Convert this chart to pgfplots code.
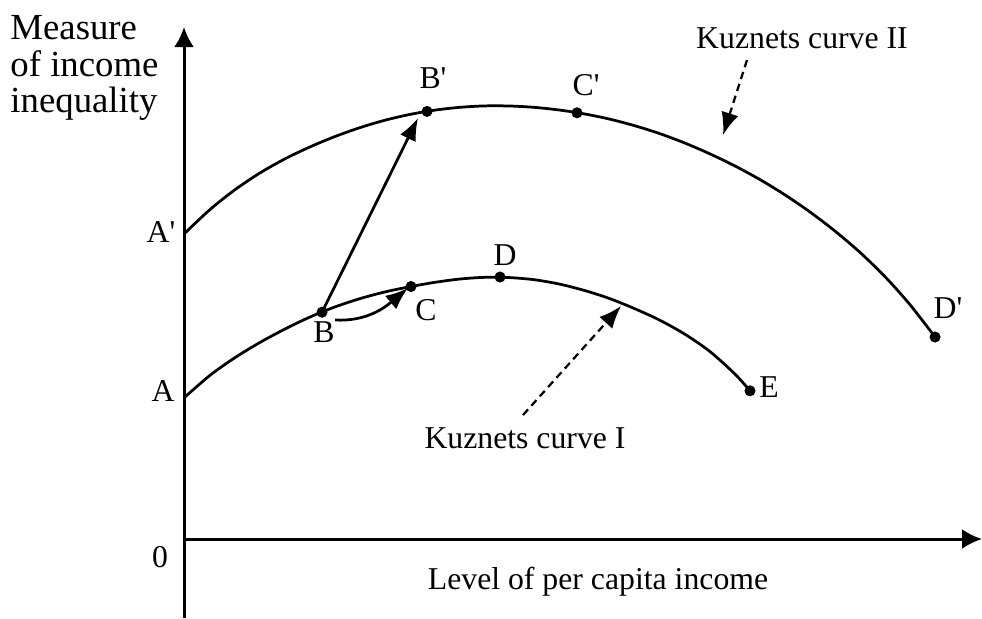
\documentclass[border=0pt]{standalone}
\usepackage{fontspec}
\setmainfont{Liberation Serif}
\usepackage{pgfplots}
\pgfplotsset{compat=1.18}
\usetikzlibrary{arrows.meta}

\begin{document}
\begin{tikzpicture}
\fontsize{12.7}{13.3}\selectfont
\begin{axis}[
  at={(0,0)}, anchor=south west,
  width=392.8pt, height=247.2pt, scale only axis,
  xmin=0, xmax=982, ymin=0, ymax=618,
  hide axis, clip=false,
]
% axes
\addplot[line width=1.2pt, -{Latex[length=8pt,width=8pt]}] coordinates {(184,0) (184,591)};
\addplot[line width=1.2pt, -{Latex[length=8pt,width=8pt]}] coordinates {(184,79) (982,79)};

% Kuznets curve I
\addplot[line width=1.1pt, smooth] coordinates {
  (185,221.0) (210,242.7) (235,260.4) (260,275.6) (285,289.0) (310,301.0)
  (335,311.1) (360,319.4) (385,326.1) (410,331.3) (435,335.7) (460,339.0)
  (485,340.7) (510,340.4) (535,338.2) (560,333.8) (585,327.4) (610,319.3)
  (635,309.2) (660,297.7) (685,283.7) (710,266.4) (735,243.9) (750,227.2)
};
% Kuznets curve II
\addplot[line width=1.1pt, smooth] coordinates {
  (185,385.0) (210,408.5) (235,428.3) (260,445.1) (285,459.2) (310,471.1)
  (335,481.5) (360,490.4) (385,497.8) (410,503.6) (435,507.9) (460,510.7)
  (485,512.1) (510,512.0) (535,510.6) (560,507.9) (585,504.0) (610,498.8)
  (635,492.2) (660,484.3) (685,474.9) (710,464.1) (735,452.0) (760,438.4)
  (785,423.1) (810,406.0) (835,386.9) (860,365.6) (885,341.3) (910,313.3)
  (935,281.0)
};
% points
\addplot[only marks, mark=*, mark size=2pt] coordinates {
  (322,305.8) (411,331.5) (500,341) (750,227.2) (427,506.6) (577,505.2) (935,281)
};

% arrows
\draw[line width=1.1pt, -{Latex[length=9pt,width=7pt]}] (axis cs:322,305.8) -- (axis cs:418,500);
\draw[line width=1.1pt, -{Latex[length=9pt,width=7pt]}] (axis cs:335,298) to[out=-3,in=-140] (axis cs:408,330);
\draw[line width=0.9pt, dash pattern=on 3pt off 2pt, -{Latex[length=9pt,width=7pt]}] (axis cs:747,558) -- (axis cs:723,483);
\draw[line width=0.9pt, dash pattern=on 3pt off 2pt, -{Latex[length=9pt,width=7pt]}] (axis cs:523,203) -- (axis cs:621,312);

% labels
\node[anchor=north west, align=left, inner sep=0pt, font=\fontsize{14.7}{14.6}\selectfont] at (axis cs:10,603) {Measure\\of income\\inequality};
\node at (axis cs:160,61) {0};
\node at (axis cs:163,227) {A};
\node at (axis cs:161,386) {A\textquotesingle};
\node at (axis cs:324,286) {B};
\node at (axis cs:426,308) {C};
\node at (axis cs:505,363) {D};
\node at (axis cs:769,231) {E};
\node at (axis cs:433,540) {B\textquotesingle};
\node at (axis cs:586,533) {C\textquotesingle};
\node at (axis cs:948,310) {D\textquotesingle};
\node at (axis cs:802,580) {Kuznets curve II};
\node at (axis cs:525,180) {Kuznets curve I};
\node at (axis cs:598,36) {Level of per capita income};
\end{axis}
\pgfresetboundingbox
\useasboundingbox (0,0) rectangle (392.8pt,247.2pt);
\end{tikzpicture}
\end{document}
